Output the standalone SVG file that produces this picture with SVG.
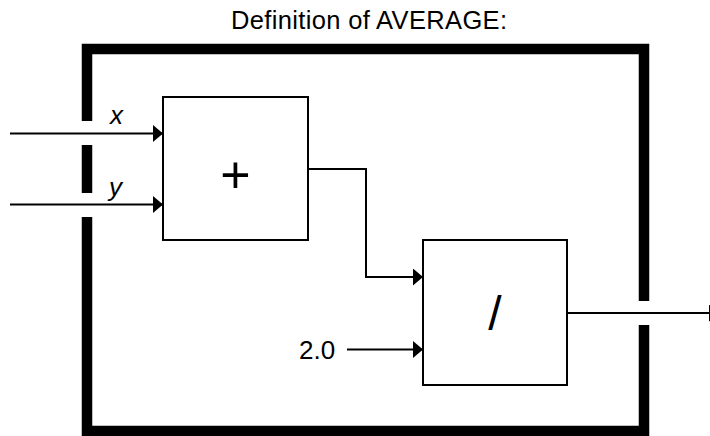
<svg xmlns="http://www.w3.org/2000/svg" width="710" height="436" viewBox="0 0 710 436">
<style>
.t{font-family:"Liberation Sans",Arial,sans-serif;fill:#000}
.frame{fill:none;stroke:#000;stroke-width:10.5;stroke-linejoin:miter;stroke-linecap:butt}
.box{fill:#fff;stroke:#000;stroke-width:2}
.wire{fill:none;stroke:#000;stroke-width:2}
</style>
<defs>
<marker id="ah" viewBox="0 0 10 17" refX="10" refY="8.5" markerWidth="10" markerHeight="17" markerUnits="userSpaceOnUse" orient="auto">
<path d="M0,0 L10,8.5 L0,17 z" fill="#000"/>
</marker>
</defs>
<rect width="710" height="436" fill="#fff"/>
<text class="t" x="369" y="29" font-size="25.5" text-anchor="middle" textLength="276" lengthAdjust="spacing">Definition of AVERAGE:</text>
<g id="frame">
<path class="frame" d="M87,121 V49 H644 V301"/>
<path class="frame" d="M644,325 V431 H87 V217"/>
<path class="frame" d="M87,145 V193"/>
</g>
<g id="connectors">
<path class="wire" d="M10,133.5 H163" marker-end="url(#ah)"/>
<path class="wire" d="M10,204.5 H163" marker-end="url(#ah)"/>
<path class="wire" d="M308,169 H366 V277 H423" marker-end="url(#ah)"/>
<path class="wire" d="M347,349.5 H423" marker-end="url(#ah)"/>
<path class="wire" d="M567,313 H719" marker-end="url(#ah)"/>
<text class="t" x="110" y="124" font-size="26" font-style="italic">x</text>
<text class="t" x="109" y="196" font-size="26" font-style="italic">y</text>
<text class="t" x="299" y="359" font-size="26">2.0</text>
</g>
<g id="plus">
<rect class="box" x="163" y="97" width="145" height="143"/>
<text class="t" x="235.5" y="193" font-size="52" text-anchor="middle">+</text>
</g>
<g id="divide">
<rect class="box" x="423" y="240" width="144" height="145"/>
<text class="t" x="495" y="330" font-size="48" text-anchor="middle">/</text>
</g>
</svg>
